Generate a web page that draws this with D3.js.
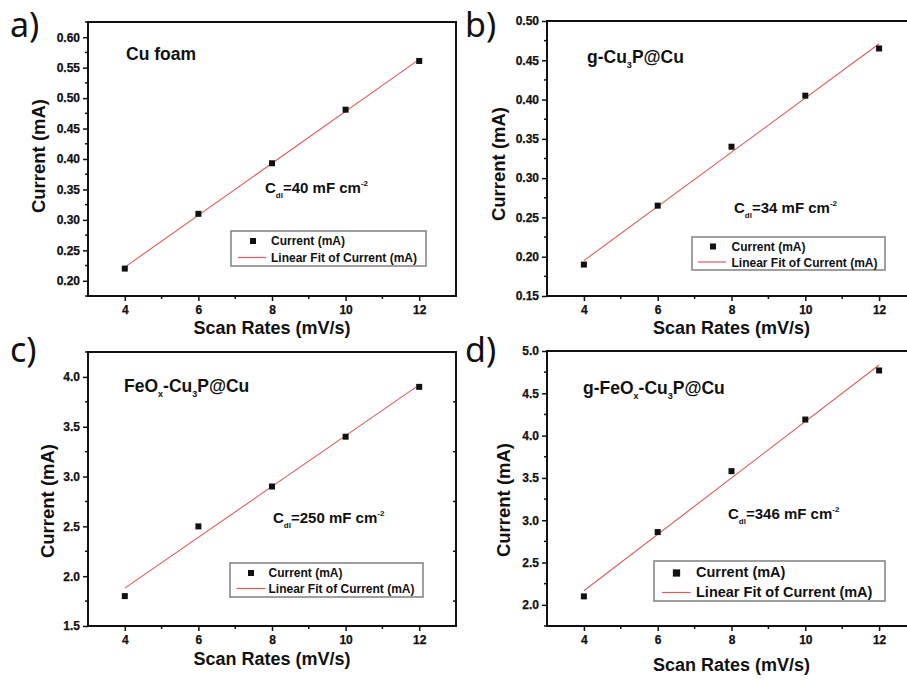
<!DOCTYPE html>
<html><head><meta charset="utf-8">
<script src="https://cdn.jsdelivr.net/npm/d3@7"></script>
<style>
html,body{margin:0;padding:0;background:#fff;}
svg{display:block;}
text{font-family:"Liberation Sans",Arial,sans-serif;fill:#111;}
</style></head>
<body>
<svg id="chart" width="907" height="680"></svg>
<script>
// ---- data ----
const scanRates = [4, 6, 8, 10, 12];
const currentA = [0.22, 0.31, 0.393, 0.481, 0.561];
const currentB = [0.19, 0.265, 0.34, 0.405, 0.465];
const currentC = [1.8, 2.5, 2.9, 3.4, 3.9];
const currentD = [2.1, 2.86, 3.58, 4.19, 4.77];
const xTickValues = [4, 6, 8, 10, 12];
const yTicksA = [0.20, 0.25, 0.30, 0.35, 0.40, 0.45, 0.50, 0.55, 0.60];
const yTicksB = [0.15, 0.20, 0.25, 0.30, 0.35, 0.40, 0.45, 0.50];
const yTicksC = [1.5, 2.0, 2.5, 3.0, 3.5, 4.0];
const yTicksD = [2.0, 2.5, 3.0, 3.5, 4.0, 4.5, 5.0];
const panelLetters = ["a)", "b)", "c)", "d)"];
const sampleNames = [
  [["Cu foam", ""]],
  [["g-Cu", ""], ["3", "sub"], ["P@Cu", ""]],
  [["FeO", ""], ["x", "sub"], ["-Cu", ""], ["3", "sub"], ["P@Cu", ""]],
  [["g-FeO", ""], ["x", "sub"], ["-Cu", ""], ["3", "sub"], ["P@Cu", ""]]
];
const cdlValues = ["40", "34", "250", "346"];
const xTitle = "Scan Rates (mV/s)";
const yTitle = "Current (mA)";
const legendLabels = ["Current (mA)", "Linear Fit of Current (mA)"];

const svg = d3.select("#chart");
const FONT = '"Liberation Sans",Arial,sans-serif';

function linFit(xs, ys) {
  const mx = d3.mean(xs), my = d3.mean(ys);
  let num = 0, den = 0;
  xs.forEach((x, i) => { num += (x - mx) * (ys[i] - my); den += (x - mx) * (x - mx); });
  const b = num / den;
  return x => my + b * (x - mx);
}

const panels = [
  {ys: currentA, yTicks: yTicksA, ydom: [0.175, 0.625], fmt: ".2f", minor: 0.025,
   box: {l: 88, t: 22, r: 456, b: 296}, letter: {x: 10, y: 37},
   ylab: {x: 38, y: 156}, xlab: {y: 334},
   name: {x: 126, y: 60}, cdl: {x: 265, y: 193},
   leg: {x: 231, y: 231, w: 195, h: 35, fs: 12, r1: 14, r2: 31, sq: 22, tx: 40, l1: 7, l2: 35}, rightTicks: false},
  {ys: currentB, yTicks: yTicksB, ydom: [0.15, 0.50], fmt: ".2f", minor: 0.025,
   box: {l: 547, t: 21, r: 916, b: 296}, letter: {x: 465, y: 37},
   ylab: {x: 498, y: 164}, xlab: {y: 334},
   name: {x: 587, y: 63}, cdl: {x: 734, y: 213},
   leg: {x: 692, y: 237, w: 193, h: 33, fs: 12, r1: 13.5, r2: 29.5, sq: 21, tx: 39.5, l1: 6, l2: 34}, rightTicks: false},
  {ys: currentC, yTicks: yTicksC, ydom: [1.5, 4.25], fmt: ".1f", minor: 0.25,
   box: {l: 88, t: 352, r: 456, b: 626}, letter: {x: 10, y: 362},
   ylab: {x: 47, y: 501}, xlab: {y: 665},
   name: {x: 124, y: 392}, cdl: {x: 273, y: 523},
   leg: {x: 230, y: 563, w: 193, h: 34, fs: 12, r1: 14, r2: 30, sq: 21, tx: 38.5, l1: 6.5, l2: 35.5}, rightTicks: true},
  {ys: currentD, yTicks: yTicksD, ydom: [1.75, 5.0], fmt: ".1f", minor: 0.25,
   box: {l: 547, t: 351, r: 916, b: 626}, letter: {x: 465, y: 362},
   ylab: {x: 503, y: 500}, xlab: {y: 671},
   name: {x: 583, y: 394}, cdl: {x: 728, y: 519},
   leg: {x: 654, y: 561, w: 231, h: 40, fs: 14.5, r1: 16, r2: 36, sq: 22.5, tx: 42, l1: 8, l2: 36.5}, rightTicks: false}
];

function styleTicks(sel) {
  sel.selectAll(".tick line").attr("stroke", "#111").attr("stroke-width", 1.5);
  sel.selectAll(".tick text")
    .style("font-family", FONT).style("font-weight", "700").style("font-size", "12px")
    .style("fill", "#111").style("stroke", "#111").style("stroke-width", "0.25px");
}

panels.forEach((p, i) => {
  const g = svg.append("g");
  const x = d3.scaleLinear().domain([3, 13]).range([p.box.l, p.box.r]);
  const y = d3.scaleLinear().domain(p.ydom).range([p.box.b, p.box.t]);

  const xMinor = d3.range(5, 13, 2);
  const yMinor = d3.range(Math.ceil(p.ydom[0] / p.minor) * p.minor, p.ydom[1] + 1e-9, p.minor)
    .filter(v => !p.yTicks.some(t => Math.abs(t - v) < 1e-6));

  // x axis
  const xAxis = d3.axisBottom(x).tickValues(xTickValues).tickFormat(d3.format("d")).tickSize(5).tickPadding(4);
  const gx = g.append("g").attr("transform", `translate(0,${p.box.b})`).call(xAxis);
  gx.select(".domain").remove();
  styleTicks(gx);
  g.selectAll(".xminor").data(xMinor).enter().append("line")
    .attr("x1", d => x(d)).attr("x2", d => x(d)).attr("y1", p.box.b).attr("y2", p.box.b + 3)
    .attr("stroke", "#111").attr("stroke-width", 1.5);

  // y axis
  const yAxis = d3.axisLeft(y).tickValues(p.yTicks).tickFormat(d3.format(p.fmt)).tickSize(5).tickPadding(3);
  const gy = g.append("g").attr("transform", `translate(${p.box.l},0)`).call(yAxis);
  gy.select(".domain").remove();
  styleTicks(gy);
  g.selectAll(".yminor").data(yMinor).enter().append("line")
    .attr("x1", p.box.l - 3).attr("x2", p.box.l).attr("y1", d => y(d)).attr("y2", d => y(d))
    .attr("stroke", "#111").attr("stroke-width", 1.5);

  if (p.rightTicks) {
    g.selectAll(".rminor").data(yMinor).enter().append("line")
      .attr("x1", p.box.r - 3).attr("x2", p.box.r).attr("y1", d => y(d)).attr("y2", d => y(d))
      .attr("stroke", "#111").attr("stroke-width", 1.5);
  }

  // frame
  g.append("rect").attr("x", p.box.l).attr("y", p.box.t)
    .attr("width", p.box.r - p.box.l).attr("height", p.box.b - p.box.t)
    .attr("fill", "none").attr("stroke", "#111").attr("stroke-width", 2);

  // fit line
  const f = linFit(scanRates, p.ys);
  const xr = d3.extent(scanRates);
  g.append("line").attr("x1", x(xr[0])).attr("y1", y(f(xr[0])))
    .attr("x2", x(xr[1])).attr("y2", y(f(xr[1])))
    .attr("stroke", "#e0595b").attr("stroke-width", 1.1);

  // points
  g.selectAll(".pt").data(scanRates).enter().append("rect")
    .attr("x", d => x(d) - 3).attr("y", (d, j) => y(p.ys[j]) - 3)
    .attr("width", 6).attr("height", 6).attr("fill", "#111");

  // panel letter
  svg.append("text").attr("x", p.letter.x).attr("y", p.letter.y)
    .style("font-size", "34px").style("font-family", '"Noto Sans","Open Sans",sans-serif')
    .text(panelLetters[i]);

  // axis titles
  g.append("text").attr("x", (p.box.l + p.box.r) / 2).attr("y", p.xlab.y)
    .attr("text-anchor", "middle").style("font-size", "18px").style("font-weight", "bold").text(xTitle);
  g.append("text").attr("transform", `translate(${p.ylab.x},${p.ylab.y}) rotate(-90)`)
    .attr("text-anchor", "middle").attr("dominant-baseline", "central")
    .style("font-size", "18.5px").style("font-weight", "bold").text(yTitle);

  // sample name
  const nt = g.append("text").attr("x", p.name.x).attr("y", p.name.y)
    .style("font-size", "17.5px").style("font-weight", "bold");
  sampleNames[i].forEach(([s, kind], k) => {
    const prev = k > 0 ? sampleNames[i][k - 1][1] : "";
    let dy = 0;
    if (kind === "sub") dy = 5;
    if (kind === "" && prev === "sub") dy = -5;
    const ts = nt.append("tspan").attr("dy", dy).text(s);
    if (kind === "sub") ts.style("font-size", "9px");
  });

  // Cdl annotation
  const ct = g.append("text").attr("x", p.cdl.x).attr("y", p.cdl.y)
    .style("font-size", "15px").style("font-weight", "bold");
  ct.append("tspan").text("C");
  ct.append("tspan").attr("dy", 5).style("font-size", "8px").text("dl");
  ct.append("tspan").attr("dy", -5).text("=" + cdlValues[i] + " mF cm");
  ct.append("tspan").attr("dy", -7).style("font-size", "8px").text("-2");

  // legend
  const L = p.leg;
  g.append("rect").attr("x", L.x).attr("y", L.y).attr("width", L.w).attr("height", L.h)
    .attr("fill", "#fff").attr("stroke", "#808080").attr("stroke-width", 1.5);
  const s = L.fs / 12 * 6;
  g.append("rect").attr("x", L.x + L.sq - s / 2).attr("y", L.y + L.r1 - 4 - s / 2)
    .attr("width", s).attr("height", s).attr("fill", "#111");
  g.append("text").attr("x", L.x + L.tx).attr("y", L.y + L.r1)
    .style("font-size", L.fs + "px").style("font-weight", "bold").text(legendLabels[0]);
  g.append("line").attr("x1", L.x + L.l1).attr("x2", L.x + L.l2)
    .attr("y1", L.y + L.r2 - 4.5).attr("y2", L.y + L.r2 - 4.5)
    .attr("stroke", "#e0595b").attr("stroke-width", 1.2);
  g.append("text").attr("x", L.x + L.tx).attr("y", L.y + L.r2)
    .style("font-size", L.fs + "px").style("font-weight", "bold").text(legendLabels[1]);
});
</script>
</body></html>
